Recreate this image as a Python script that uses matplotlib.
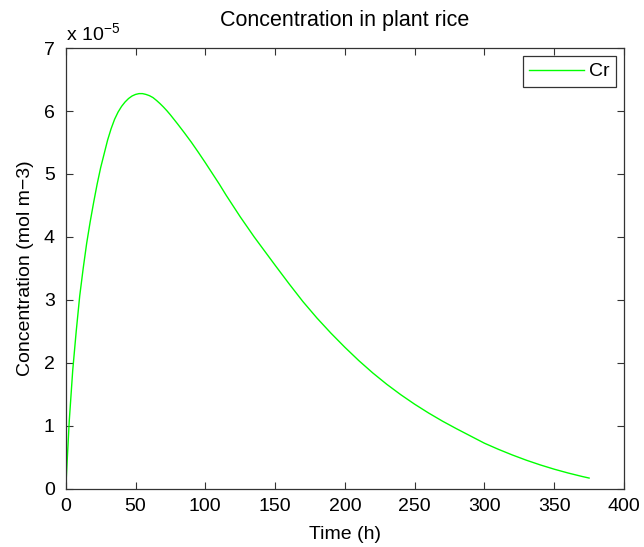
import matplotlib
matplotlib.use("Agg")
import matplotlib.pyplot as plt

plt.rcParams['font.family'] = ['Liberation Sans', 'DejaVu Sans']

# Data (concentration in units of 1e-5 mol m-3)
time_h = [0, 2.5, 5, 7.5, 10, 12.5, 15, 17.5, 20, 22.5, 25, 27.5, 30, 32.5, 35, 37.5,
          40, 42.5, 45, 47.5, 50, 52.5, 55, 57.5, 60, 62.5, 65, 67.5, 70, 72.5, 75,
          80, 85, 90, 95, 100, 105, 110, 115, 120, 125, 130, 135, 140, 145, 150,
          160, 170, 180, 190, 200, 210, 220, 230, 240, 250, 260, 270, 280, 290,
          300, 310, 320, 330, 340, 350, 360, 370, 375]
conc_cr = [0, 1.07, 1.88, 2.5, 3.06, 3.5, 3.9, 4.24, 4.55, 4.84, 5.1, 5.32, 5.54, 5.72,
           5.87, 5.985, 6.075, 6.145, 6.2, 6.24, 6.265, 6.278, 6.278, 6.265, 6.245,
           6.215, 6.17, 6.12, 6.065, 6.005, 5.94, 5.8, 5.655, 5.505, 5.345, 5.18,
           5.01, 4.84, 4.66, 4.49, 4.32, 4.16, 4.0, 3.85, 3.7, 3.55, 3.255, 2.97,
           2.71, 2.47, 2.245, 2.033, 1.837, 1.657, 1.492, 1.34, 1.2, 1.07, 0.95,
           0.835, 0.72, 0.623, 0.533, 0.45, 0.375, 0.307, 0.246, 0.191, 0.166]
series_label = "Cr"
x_ticks = [0, 50, 100, 150, 200, 250, 300, 350, 400]
y_ticks = [0, 1, 2, 3, 4, 5, 6, 7]

fig = plt.figure(figsize=(6.44, 5.47), dpi=100)
W, H = 644, 547
left, right, top, bottom = 65.75, 624, 48.2, 488.5
ax = fig.add_axes([left / W, (H - bottom) / H, (right - left) / W, (bottom - top) / H])

ax.plot(time_h, conc_cr, color=(0, 1, 0), linewidth=1.0, label=series_label)

ax.set_xlim(0, 400)
ax.set_ylim(0, 7)
ax.set_xticks(x_ticks)
ax.set_yticks(y_ticks)
ax.tick_params(direction='in', length=5, width=0.8, top=True, right=True,
               labelsize=14, colors='#333333', labelcolor='black')
ax.tick_params(axis='x', pad=7)
ax.tick_params(axis='y', pad=8)
for s in ax.spines.values():
    s.set_linewidth(0.9)
    s.set_color('#333333')

ax.set_title("Concentration in plant rice", fontsize=15.5, pad=16)
ax.set_xlabel("Time (h)", fontsize=14, labelpad=8)
ax.set_ylabel("Concentration (mol m\u22123)", fontsize=14, labelpad=7)

fig.text(66 / W, 1 - 41 / H, "x 10$^{\\mathregular{\u22125}}$", fontsize=14,
         ha='left', va='baseline')

leg = ax.legend(loc='upper right', fontsize=14, frameon=True, fancybox=False,
                edgecolor='#333333', framealpha=1, handlelength=2.8,
                handletextpad=0.25, borderaxespad=0.4, borderpad=0.35)
leg.get_frame().set_linewidth(0.9)

fig.savefig("out.png", dpi=100)
